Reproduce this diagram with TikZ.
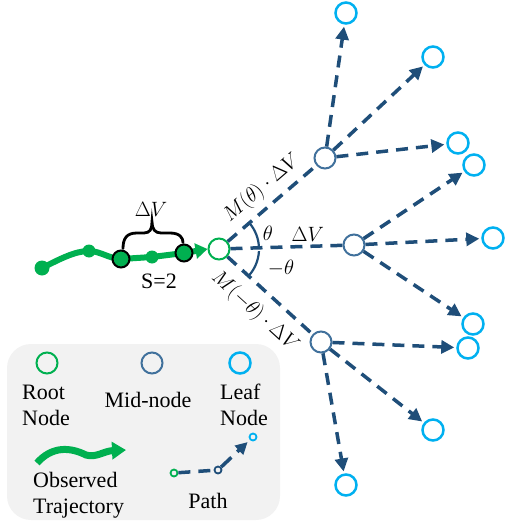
\documentclass[tikz,border=0pt]{standalone}
\usepackage{fontspec}
\setmainfont{Liberation Serif}
\usetikzlibrary{arrows.meta,calc}
\definecolor{rootgreen}{HTML}{00B050}
\definecolor{midblue}{HTML}{41719C}
\definecolor{edgeblue}{HTML}{1F4E79}
\definecolor{leafcyan}{HTML}{00B0F0}
\definecolor{legendbg}{HTML}{F2F2F2}
\begin{document}
\begin{tikzpicture}[x=1pt,y=1pt,
  font=\fontsize{22}{26}\selectfont,
  rootnode/.style={circle,draw=rootgreen,line width=2pt,minimum size=21pt,inner sep=0pt},
  midnode/.style={circle,draw=midblue,line width=2pt,minimum size=21pt,inner sep=0pt},
  leafnode/.style={circle,draw=leafcyan,line width=2.5pt,minimum size=21pt,inner sep=0pt},
  smallroot/.style={rootnode,line width=1.8pt,minimum size=7pt},
  smallmid/.style={midnode,draw=edgeblue,line width=1.8pt,minimum size=7pt},
  smallleaf/.style={leafnode,line width=1.8pt,minimum size=7pt},
  branch/.style={draw=edgeblue,line width=3.5pt,dash pattern=on 12pt off 8pt},
  arrowbranch/.style={branch,-{Triangle[length=13pt,width=13pt]},shorten >=2pt},
  traj/.style={draw=rootgreen,line width=6pt},
  dotgreen/.style={circle,fill=rootgreen,inner sep=0pt},
  dotkey/.style={circle,fill=rootgreen,draw=black,line width=2pt,inner sep=0pt,minimum size=17pt},
  lbl/.style={inner sep=0pt}
]
\useasboundingbox (0,0) rectangle (505,-524);

% legend panel
\fill[legendbg,rounded corners=24pt] (7,-344) rectangle (280,-520);

% tree nodes
\node[rootnode] (root) at (219,-249) {};
\node[midnode] (m1) at (325,-158) {};
\node[midnode] (m2) at (354,-245) {};
\node[midnode] (m3) at (321,-342) {};
\node[leafnode] (l1) at (346,-13) {};
\node[leafnode] (l2) at (433,-57) {};
\node[leafnode] (l3) at (458,-143) {};
\node[leafnode] (l4) at (474,-165) {};
\node[leafnode] (l5) at (493,-238) {};
\node[leafnode] (l6) at (473,-324) {};
\node[leafnode] (l7) at (468,-348) {};
\node[leafnode] (l8) at (433,-430) {};
\node[leafnode] (l9) at (346,-485) {};

% observed trajectory
\coordinate (t0) at (42,-268);
\coordinate (t1) at (89,-251);
\coordinate (t2) at (121,-259);
\coordinate (t3) at (152,-257);
\coordinate (t4) at (184,-253);
\draw[traj,-{Triangle[length=12pt,width=15pt]}]
  (t0) .. controls (60,-259) and (75,-251) .. (t1)
  .. controls (100,-251) and (110,-259) .. (t2) -- (t3) -- (t4) -- (root.west);
\node[dotgreen,minimum size=15pt] at (t0) {};
\node[dotgreen,minimum size=13pt] at (t1) {};
\node[dotgreen,minimum size=13pt] at (t3) {};
\node[dotkey] (k1) at (t2) {};
\node[dotkey] (k2) at (t4) {};

% brace over the sampled step
\draw[line width=2.8pt,line cap=round]
  ($(k1.north)+(2,1)$) .. controls (123,-238) and (127,-233) .. (137,-233) -- (144,-233)
  .. controls (150,-233) and (152,-229) .. (152,-222)
  .. controls (152,-229) and (155,-233) .. (161,-233) -- (170,-233)
  .. controls (180,-233) and (183,-238) .. ($(k2.north)+(-1,1)$);
\node[lbl] (dvb) at (151,-209) {$\Delta V$};
\node[lbl] (s) at (159,-281) {S=2};

% first-level branches
\draw[branch] (root) -- node[sloped,pos=0.52,above=6pt,lbl] (lab1) {$M(\theta)\cdot\Delta V$} (m1);
\draw[branch] (root) -- node[pos=0.69,above=3pt,lbl] (lab2) {$\Delta V$} (m2);
\draw[branch] (root) -- node[sloped,pos=0.5,below=10pt,lbl] (lab3) {$M(-\theta)\cdot\Delta V$} (m3);

% angle marks
\draw[edgeblue,line width=2.2pt] (root.center) ++(1.5:40) arc[start angle=1.5,end angle=40.6,radius=40];
\draw[edgeblue,line width=2.2pt] (root.center) ++(-3:40) arc[start angle=-3,end angle=-42.4,radius=40];
\node[lbl] (th) at (268,-233) {$\theta$};
\node[lbl] (mth) at (281,-268) {$-\theta$};

% second-level branches
\draw[arrowbranch] (m1) -- (l1);
\draw[arrowbranch] (m1) -- (l2);
\draw[arrowbranch] (m1) -- (l3);
\draw[arrowbranch] (m2) -- (l4);
\draw[arrowbranch] (m2) -- (l5);
\draw[arrowbranch] (m2) -- (l6);
\draw[arrowbranch] (m3) -- (l7);
\draw[arrowbranch] (m3) -- (l8);
\draw[arrowbranch] (m3) -- (l9);

% legend entries
\node[rootnode] (lgroot) at (47,-363) {};
\node[lbl,align=left,anchor=west] (lgroott) at (22,-405) {Root\\Node};
\node[midnode] (lgmid) at (152,-363) {};
\node[lbl] (lgmidt) at (148,-400) {Mid-node};
\node[leafnode] (lgleaf) at (240,-363) {};
\node[lbl,align=left,anchor=west] (lgleaft) at (220,-405) {Leaf\\Node};

\coordinate (w0) at (37,-463);
\coordinate (w1) at (126,-450);
\draw[draw=rootgreen,line width=7pt,-{Triangle[length=14pt,width=17pt]}]
  (w0) .. controls (52,-446) and (70,-447) .. (86,-455)
  .. controls (96,-458) and (104,-451) .. (w1);
\node[lbl,align=left,anchor=west] (lgtrajt) at (33,-495) {Observed\\Trajectory};

\node[smallroot] (pa) at (174,-473) {};
\node[smallmid] (pb) at (218,-470) {};
\node[smallleaf] (pc) at (253,-437) {};
\draw[branch,line width=3.5pt] (pa) -- (pb);
\draw[branch,line width=3.5pt,dash pattern=on 14pt off 8pt,-{Triangle[length=12pt,width=12pt]},shorten >=3pt] (pb) -- (pc);
\node[lbl] (lgpatht) at (208,-501) {Path};
\end{tikzpicture}
\end{document}
